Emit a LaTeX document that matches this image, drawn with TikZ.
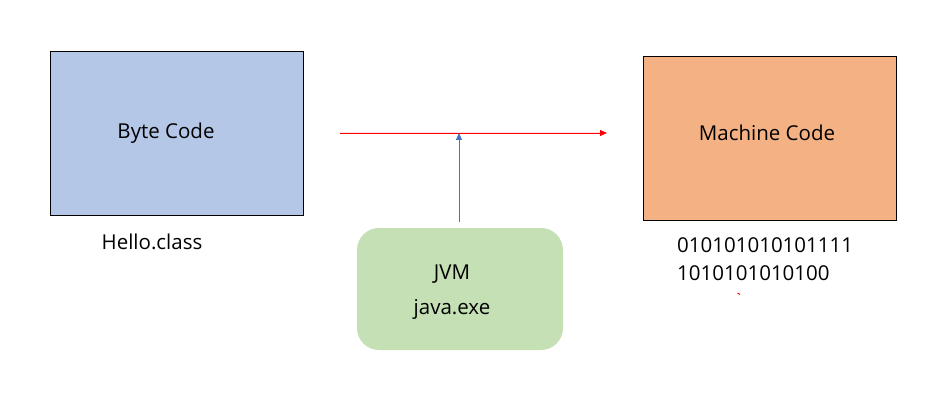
\documentclass[tikz,border=0pt]{standalone}
\usepackage{fontspec}
\setmainfont{Open Sans}
\usetikzlibrary{arrows.meta}
\definecolor{bluefill}{HTML}{B4C7E7}
\definecolor{orangefill}{HTML}{F4B183}
\definecolor{greenfill}{HTML}{C5E0B4}
\definecolor{arrowblue}{HTML}{4472C4}
\definecolor{arrowred}{HTML}{FF0000}
\tikzset{
  codebox/.style={draw=black, line width=0.8pt, minimum width=253pt, minimum height=164pt, inner sep=0pt},
  lbl/.style={font=\fontsize{20.5}{28}\selectfont, inner sep=0pt},
  arr/.style={line width=0.8pt, -{Triangle[length=7pt,width=6pt]}}
}
\begin{document}
\begin{tikzpicture}[x=1pt,y=-1pt]
\useasboundingbox (0,0) rectangle (937,401);
\node[codebox, fill=bluefill] (bc) at (176.5,133) {};
\node[lbl] (bctext) at (166,133) {Byte Code};
\node[lbl] (hello) at (152,242) {Hello.class};
\node[codebox, fill=orangefill] (mc) at (769.5,138) {};
\node[lbl] (mctext) at (767,133) {Machine Code};
\node[lbl, anchor=west, align=left] (bin) at (677,259) {010101010101111\\1010101010100};
\node[fill=greenfill, rounded corners=22pt, minimum width=206pt, minimum height=122pt, inner sep=0pt] (jvm) at (460,289) {};
\node[lbl] (jvmtext) at (452,274) {JVM};
\node[lbl] (javaexe) at (452,309) {java.exe};
\coordinate (hs) at (340,133);
\coordinate (he) at (607,133);
\coordinate (vs) at (459,222);
\coordinate (ve) at (459,133);
\draw[arr, draw=arrowred, fill=arrowred] (hs) -- (he);
\draw[arr, draw=arrowblue, fill=arrowblue] (vs) -- (ve);
\coordinate (m1) at (737.5,293);
\coordinate (m2) at (740,294.5);
\draw[arrowred, line width=1pt] (m1) -- (m2);
\end{tikzpicture}
\end{document}
